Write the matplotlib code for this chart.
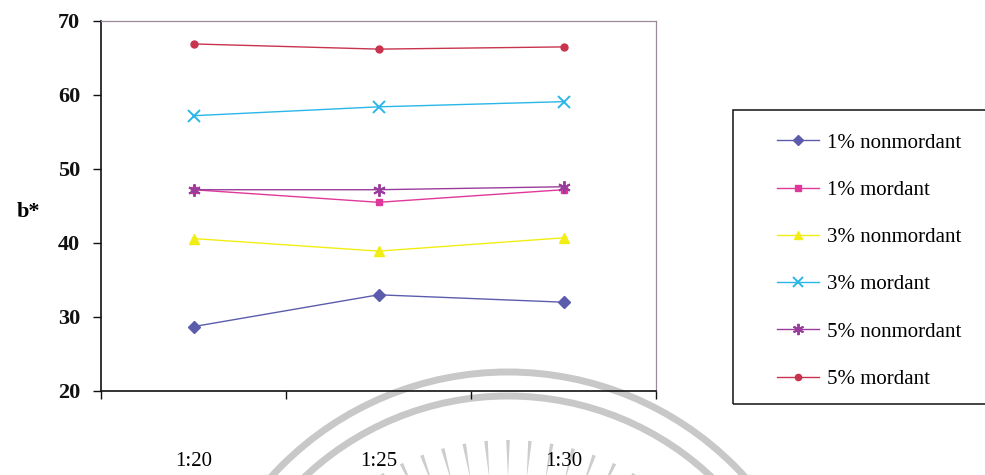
import numpy as np
import matplotlib
matplotlib.use("Agg")
import matplotlib.pyplot as plt
from matplotlib.patches import Arc, Polygon, Rectangle

plt.rcParams['font.family'] = ['Liberation Serif', 'DejaVu Serif']

# liquor ratios and b* values per dye concentration
ratios = ["1:20", "1:25", "1:30"]
series_names = ["1% nonmordant", "1% mordant", "3% nonmordant",
                "3% mordant", "5% nonmordant", "5% mordant"]
b_1_nonmordant = [28.7, 33.0, 32.0]
b_1_mordant = [47.2, 45.5, 47.2]
b_3_nonmordant = [40.6, 38.9, 40.7]
b_3_mordant = [57.2, 58.4, 59.1]
b_5_nonmordant = [47.2, 47.2, 47.6]
b_5_mordant = [66.9, 66.2, 66.5]

values = [b_1_nonmordant, b_1_mordant, b_3_nonmordant,
          b_3_mordant, b_5_nonmordant, b_5_mordant]
colors = ["#5c5cac", "#e0389a", "#f2ee14", "#2ab6e8", "#9a3c9c", "#c8344e"]
markers = ["D", "s", "^", "x", (6, 2, 0), "o"]
msizes = [6, 5, 7, 8, 9, 5]

W, H = 985, 475
fig = plt.figure(figsize=(W / 100, H / 100), dpi=100)

# faint seal in the background
bg = fig.add_axes([0, 0, 1, 1], zorder=-5)
bg.set_xlim(0, W)
bg.set_ylim(H, 0)
bg.axis("off")
cx, cy = 508, 692
for r in (320, 296):
    bg.add_patch(Arc((cx, cy), 2 * r, 2 * r, theta1=180, theta2=360,
                     color="#c8c8c8", lw=5))
for a in np.arange(0, 360, 5.0):
    t = np.deg2rad(a)
    d = np.array([np.sin(t), -np.cos(t)])
    n = np.array([d[1], -d[0]])
    p0 = np.array([cx, cy]) + 214 * d
    p1 = np.array([cx, cy]) + 252 * d + 1.8 * n
    p2 = np.array([cx, cy]) + 252 * d - 1.8 * n
    bg.add_patch(Polygon([p0, p1, p2], closed=True, color="#cdcdcd", lw=0))

ax = fig.add_axes([101 / W, 1 - 391 / H, (656 - 101) / W, (391 - 21) / H])
ax.set_facecolor("none")

x = np.arange(len(ratios))
for name, vals, c, m, ms in zip(series_names, values, colors, markers, msizes):
    ax.plot(x, vals, color=c, lw=1.0, marker=m, ms=ms, mfc=c, mec=c,
            mew=1.4 if m in ("x", (6, 2, 0)) else 1.0, label=name)

ax.set_xlim(-0.5, 2.5)
ax.set_ylim(20, 70)
ax.set_yticks([20, 30, 40, 50, 60, 70])
ax.tick_params(axis="y", direction="out", length=6, width=1.0, pad=9,
               labelsize=16, colors="#111111")
for lab in ax.get_yticklabels():
    lab.set_fontweight("bold")

ax.set_xticks([-0.5, 0.5, 1.5, 2.5])
ax.set_xticklabels([])
ax.tick_params(axis="x", which="major", direction="out", length=6, width=1.0,
               colors="#111111")
ax.set_xticks(x, minor=True)
ax.set_xticklabels(ratios, minor=True, fontsize=15)
ax.tick_params(axis="x", which="minor", length=0, pad=44)

for s in ("left", "bottom"):
    ax.spines[s].set_color("#111111")
    ax.spines[s].set_linewidth(1.2)
for s in ("top", "right"):
    ax.spines[s].set_color("#9a8a9c")
    ax.spines[s].set_linewidth(0.9)

fig.text(28 / W, 1 - 212 / H, "b*", fontsize=16, fontweight="bold",
         ha="center", va="center")

# legend box, open on the right side
fig.patches.append(Rectangle((733 / W, 1 - 404 / H), (1010 - 733) / W, 294 / H,
                             transform=fig.transFigure, fill=False,
                             ec="#111111", lw=1.1))
ax.legend(loc="upper left", bbox_to_anchor=(777 / W, 1 - 133 / H),
          bbox_transform=fig.transFigure, frameon=False, fontsize=15,
          borderpad=0, borderaxespad=0, handlelength=2.0,
          handletextpad=0.4, labelspacing=1.33, markerscale=0.9)

fig.savefig("out.png", dpi=100, facecolor="white")
